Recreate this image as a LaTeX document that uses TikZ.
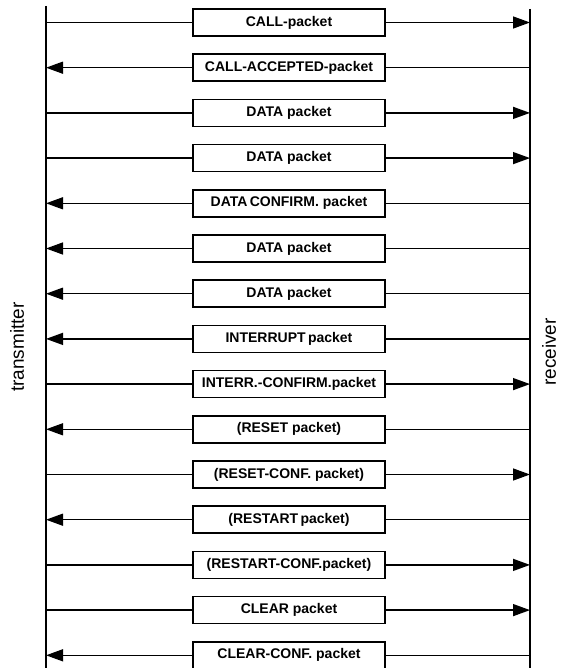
\documentclass[tikz,border=0pt]{standalone}
\usepackage{fontspec}
\setmainfont{Liberation Sans}
\usetikzlibrary{arrows.meta}
\begin{document}
\begin{tikzpicture}[x=1pt,y=-1pt,
  packet/.style={draw,line width=1.5pt,minimum width=192pt,minimum height=27pt,
    inner sep=0pt,font=\fontsize{14}{16}\selectfont\bfseries},
  msg/.style={line width=1.4pt},
  tip/.style={-{Triangle[length=17pt,width=12pt]}},
  station/.style={line width=1.5pt},
  side/.style={rotate=90,font=\fontsize{19}{21}\selectfont}]
\useasboundingbox (0,0) rectangle (564,668);
% the two stations
\coordinate (tT) at (46,6);
\coordinate (tB) at (46,668);
\coordinate (rT) at (530,9);
\coordinate (rB) at (530,668);
\draw[station] (tT) -- (tB);
\draw[station] (rT) -- (rB);
\node[side] (tx) at (17,347) {transmitter};
\node[side] (rx) at (549,352) {receiver};
% packets: index/direction/label  (r = towards receiver, l = towards transmitter)
\foreach \i/\d/\t in {
  0/r/{CALL-packet},
  1/l/{CALL-ACCEPTED-packet},
  2/r/{DATA packet},
  3/r/{DATA packet},
  4/l/{DATA\,CONFIRM. packet},
  5/l/{DATA packet},
  6/l/{DATA packet},
  7/l/{INTERRUPT\,packet},
  8/r/{INTERR.-CONFIRM.packet},
  9/l/{(RESET packet)},
  10/r/{(RESET-CONF. packet)},
  11/l/{(RESTART\,packet)},
  12/r/{(RESTART-CONF.packet)},
  13/r/{CLEAR packet},
  14/l/{CLEAR-CONF. packet}}{
  \node[packet] (p\i) at (289,{22.5+45.2*\i}) {\t};
  \if r\d
    \draw[msg] (p\i.west) -- (p\i.west -| tT);
    \draw[msg,tip] (p\i.east) -- (p\i.east -| rT);
  \else
    \draw[msg,tip] (p\i.west) -- (p\i.west -| tT);
    \draw[msg] (p\i.east) -- (p\i.east -| rT);
  \fi
}
\end{tikzpicture}
\end{document}
